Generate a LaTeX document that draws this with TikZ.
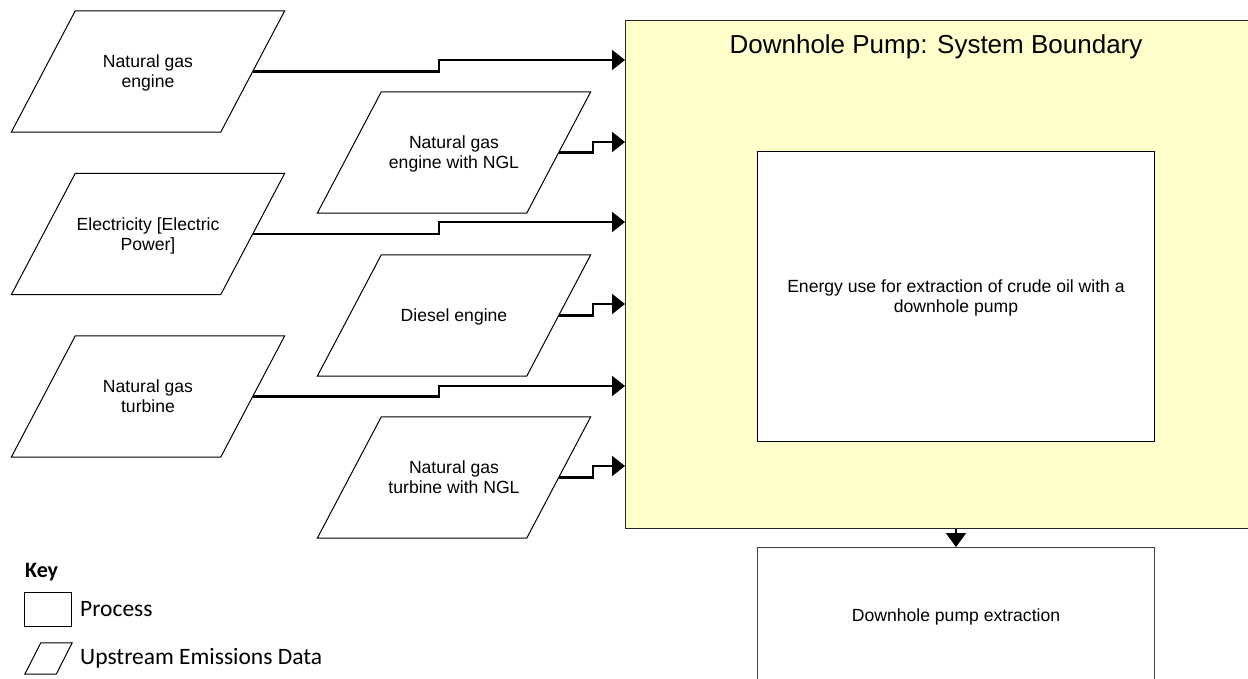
\documentclass[tikz,border=0pt]{standalone}
\usepackage{fontspec}
\setmainfont{Liberation Sans}
\newfontfamily\keyfont{Carlito}
\usetikzlibrary{calc,arrows.meta}
\definecolor{boundary}{HTML}{FFFFCC}
\tikzset{
  para/.style={append after command={\pgfextra{%
    \draw[draw=black, line width=1pt, line join=miter]
      ($(\tikzlastnode.north west)+(#1,0)$) -- ($(\tikzlastnode.north east)+(#1,0)$)
      -- ($(\tikzlastnode.south east)+(-#1,0)$) -- ($(\tikzlastnode.south west)+(-#1,0)$)
      -- cycle;}}},
  data/.style={rectangle, minimum width=209pt, minimum height=121pt, inner sep=0pt,
    align=center, text depth=0pt, font=\fontsize{17.6}{20}\selectfont, para=32},
  proc/.style={rectangle, draw=black, line width=1pt, fill=white,
    minimum width=397pt, inner sep=0pt, align=center, text depth=0pt,
    font=\fontsize{17.6}{20}\selectfont},
  flow/.style={line width=2.2pt, line join=miter, -{Triangle[length=13pt,width=20pt]}},
  keytext/.style={anchor=west, inner sep=0pt, font=\keyfont\fontsize{23.5}{27}\selectfont},
}
\begin{document}
\begin{tikzpicture}[x=1pt, y=-1pt]
\useasboundingbox (0,0) rectangle (1248,679);
\clip (0,0) rectangle (1248,679);

% system boundary
\node[rectangle, draw=black!85, line width=1.2pt, fill=boundary, minimum width=627pt,
      minimum height=508pt, anchor=north west, inner sep=0pt] (yb) at (625,20) {};
\node[font=\fontsize{26}{30}\selectfont, inner sep=0pt, text depth=0pt] (title) at (936,44) {Downhole Pump: System Boundary};

% processes
\node[proc, minimum height=290pt, anchor=north west] (energy) at (757,151)
  {Energy use for extraction of crude oil with a\\downhole pump};
\node[proc, draw=black!75, minimum height=136pt, anchor=north west] (bot) at (757,547)
  {Downhole pump extraction};

% upstream data
\node[data] (p1) at (148,71.5) {Natural gas\\engine};
\node[data] (p2) at (148,234) {Electricity [Electric\\Power]};
\node[data] (p3) at (148,396.5) {Natural gas\\turbine};
\node[data] (p4) at (454,152.5) {Natural gas\\engine with NGL};
\node[data] (p5) at (454,315.5) {Diesel engine};
\node[data] (p6) at (454,477.5) {Natural gas\\turbine with NGL};

% step points
\coordinate (s1) at (439,60);
\coordinate (s2) at (439,222);
\coordinate (s3) at (439,386);
\coordinate (s4) at (593,142);
\coordinate (s5) at (593,304);
\coordinate (s6) at (593,466);

\draw[flow] (p1.east) -| (s1) -- (s1 -| yb.west);
\draw[flow] (p2.east) -| (s2) -- (s2 -| yb.west);
\draw[flow] (p3.east) -| (s3) -- (s3 -| yb.west);
\draw[flow] (p4.east) -| (s4) -- (s4 -| yb.west);
\draw[flow] (p5.east) -| (s5) -- (s5 -| yb.west);
\draw[flow] (p6.east) -| (s6) -- (s6 -| yb.west);

\draw[flow, -{Triangle[length=14pt,width=20pt]}] (bot.north |- yb.south) -- (bot.north);

% key
\node[anchor=west, inner sep=0pt, font=\keyfont\bfseries\fontsize{22}{26}\selectfont] (key) at (25,572) {Key};
\node[rectangle, draw=black, line width=1pt, minimum width=47pt, minimum height=34pt,
      anchor=north west, inner sep=0pt] (kproc) at (24,592) {};
\node[keytext] (kproct) at (80,609) {Process};
\node[rectangle, minimum width=31pt, minimum height=31pt, inner sep=0pt, para=8] (kdata) at (48.5,658.5) {};
\node[keytext] (kdatat) at (80,658.5) {Upstream Emissions Data};
\end{tikzpicture}
\end{document}
